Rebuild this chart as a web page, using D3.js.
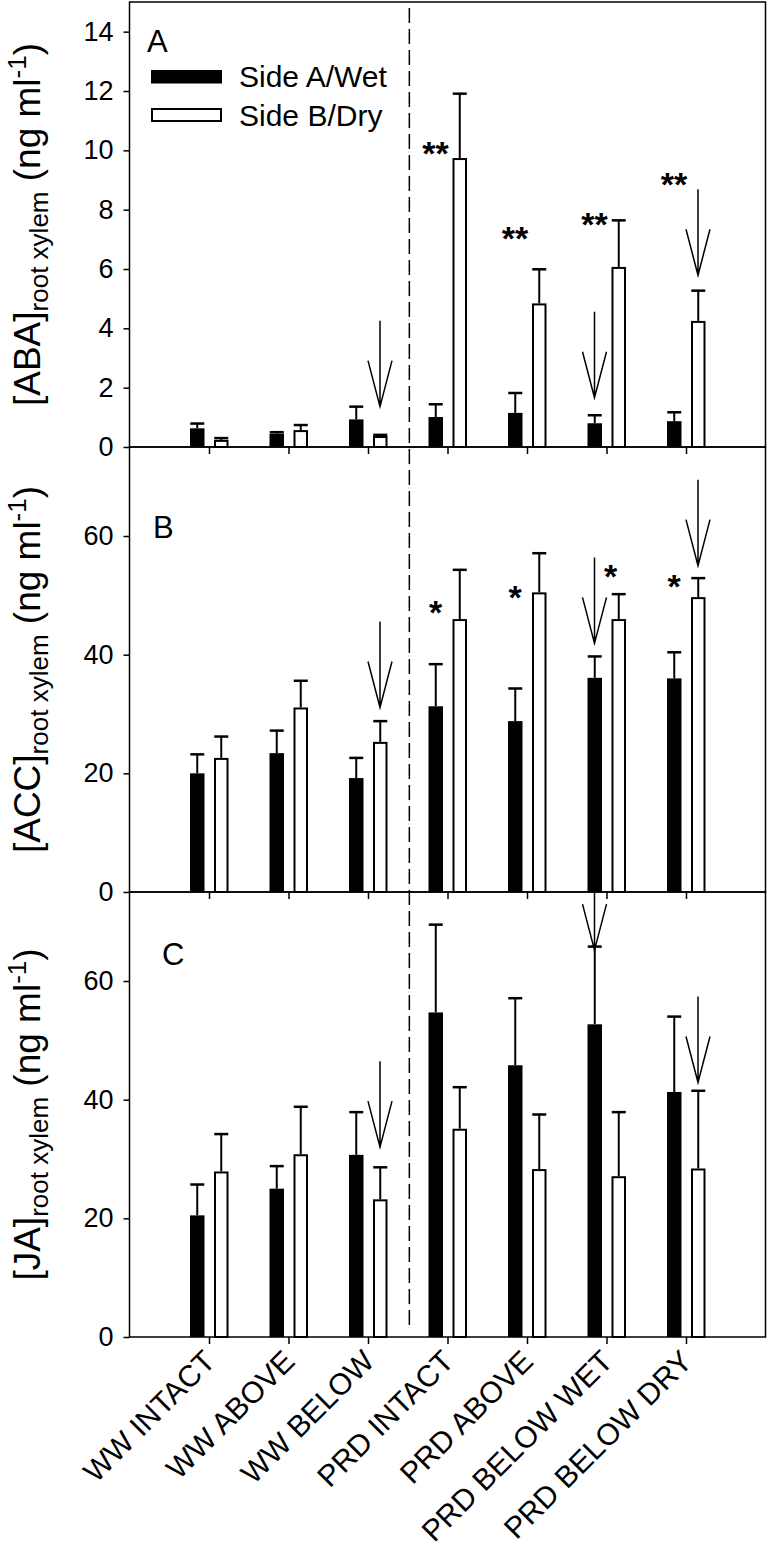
<!DOCTYPE html>
<html>
<head>
<meta charset="utf-8">
<script src="https://cdn.jsdelivr.net/npm/d3@7"></script>
<style>
  body { margin: 0; background: #fff; }
  text { font-family: "Liberation Sans", Arial, Helvetica, sans-serif; fill: #000; }
</style>
</head>
<body>
<div id="chart"></div>
<script>
// treatments along the x axis
var categories = ["WW INTACT", "WW ABOVE", "WW BELOW", "PRD INTACT", "PRD ABOVE", "PRD BELOW WET", "PRD BELOW DRY"];

// A: [ABA] root xylem, side A/wet (black) and side B/dry (white), mean and SE
var abaWet    = [0.63, 0.45, 0.93, 1.01, 1.15, 0.80, 0.87];
var abaWetErr = [0.16, 0.05, 0.43, 0.43, 0.67, 0.27, 0.30];
var abaDry    = [0.24, 0.57, 0.37, 9.74, 4.84, 6.07, 4.25];
var abaDryErr = [0.06, 0.17, 0.04, 2.17, 1.15, 1.57, 1.02];

// B: [ACC]
var accWet    = [20.0, 23.4, 19.2, 31.3, 28.8, 36.1, 36.0];
var accWetErr = [3.2, 3.8, 3.4, 7.1, 5.5, 3.6, 4.4];
var accDry    = [22.6, 31.1, 25.3, 46.0, 50.5, 46.0, 49.7];
var accDryErr = [3.6, 4.5, 3.5, 8.3, 6.6, 4.2, 3.2];

// C: [JA]
var jaWet    = [20.5, 25.0, 30.7, 54.7, 45.8, 52.7, 41.3];
var jaWetErr = [5.2, 3.8, 7.2, 14.8, 11.3, 13.1, 12.7];
var jaDry    = [27.9, 30.8, 23.2, 35.1, 28.3, 27.1, 28.4];
var jaDryErr = [6.3, 8.0, 5.4, 7.0, 9.2, 10.8, 13.1];

var abaTicks = [0, 2, 4, 6, 8, 10, 12, 14];
var accTicks = [0, 20, 40, 60];
var jaTicks  = [0, 20, 40, 60];

// significance marks: [category index, mark, side, value]
var abaStars = [[3, "**", "wet", 10.15], [4, "**", "wet", 7.3], [5, "**", "wet", 7.78], [6, "**", "wet", 9.12]];
var accStars = [[3, "*", "wet", 48.4], [4, "*", "wet", 50.9], [5, "*", "mid", 54.5], [6, "*", "wet", 52.9]];

// arrows: [category index, side, value at the tip]
var abaArrows = [[2, "dry", 1.36], [5, "wet", 1.66], [6, "dry", 5.79]];
var accArrows = [[2, "dry", 31.1], [5, "wet", 41.9], [6, "dry", 55.0]];
var jaArrows  = [[2, "dry", 32.0], [5, "wet", 65.2], [6, "dry", 42.9]];

var width = 771, height = 1550;
var sideOffset = {wet: -12, dry: 12, mid: 4};

var svg = d3.select("#chart")
    .append("svg")
    .attr("width", width)
    .attr("height", height);

var x = d3.scaleLinear()
    .domain([0, 8])
    .range([129.5, 765.5]);

var panels = [
    {letter: "A", lx: 147, ly: 52, top: 2, bottom: 447, domain: [0, 15], ticks: abaTicks,
     wet: abaWet, wetErr: abaWetErr, dry: abaDry, dryErr: abaDryErr,
     stars: abaStars, arrows: abaArrows, title: "[ABA]"},
    {letter: "B", lx: 153, ly: 538, top: 447, bottom: 892, domain: [0, 75], ticks: accTicks,
     wet: accWet, wetErr: accWetErr, dry: accDry, dryErr: accDryErr,
     stars: accStars, arrows: accArrows, title: "[ACC]"},
    {letter: "C", lx: 162, ly: 965, top: 892, bottom: 1337, domain: [0, 75], ticks: jaTicks,
     wet: jaWet, wetErr: jaWetErr, dry: jaDry, dryErr: jaDryErr,
     stars: [], arrows: jaArrows, title: "[JA]"}
];

function drawPanel(p) {
    var g = svg.append("g");
    var y = d3.scaleLinear().domain(p.domain).range([p.bottom, p.top]);

    // black bars
    g.selectAll(".wet").data(p.wet).join("rect")
        .attr("x", function(d, i) { return x(i + 1) - 19; })
        .attr("width", 14.5)
        .attr("y", function(d) { return y(d); })
        .attr("height", function(d) { return p.bottom - y(d); })
        .attr("fill", "#000");

    // white bars
    g.selectAll(".dry").data(p.dry).join("rect")
        .attr("x", function(d, i) { return x(i + 1) + 6; })
        .attr("width", 12.5)
        .attr("y", function(d) { return y(d) + 1; })
        .attr("height", function(d) { return p.bottom - y(d) - 1; })
        .attr("fill", "#fff")
        .attr("stroke", "#000")
        .attr("stroke-width", 2);

    // error bars (upper only)
    function errBars(vals, errs, dx) {
        vals.forEach(function(v, i) {
            var cx = x(i + 1) + dx;
            g.append("line")
                .attr("x1", cx).attr("x2", cx)
                .attr("y1", y(v)).attr("y2", y(v + errs[i]))
                .attr("stroke", "#000").attr("stroke-width", 2);
            g.append("line")
                .attr("x1", cx - 7).attr("x2", cx + 7)
                .attr("y1", y(v + errs[i])).attr("y2", y(v + errs[i]))
                .attr("stroke", "#000").attr("stroke-width", 2.5);
        });
    }
    errBars(p.wet, p.wetErr, -11.75);
    errBars(p.dry, p.dryErr, 12.25);

    // frame
    g.append("rect")
        .attr("x", x(0)).attr("y", p.top)
        .attr("width", x(8) - x(0)).attr("height", p.bottom - p.top)
        .attr("fill", "none").attr("stroke", "#000").attr("stroke-width", 1.5);

    var yAxis = g.append("g")
        .attr("transform", "translate(" + x(0) + ",0)")
        .call(d3.axisLeft(y).tickValues(p.ticks).tickSize(6).tickPadding(10));
    yAxis.select(".domain").remove();
    yAxis.attr("font-size", 27).attr("font-family", null);
    yAxis.selectAll("line").attr("stroke-width", 1.5);

    var xAxis = g.append("g")
        .attr("transform", "translate(0," + p.bottom + ")")
        .call(d3.axisBottom(x).tickValues(d3.range(1, 8)).tickSize(7).tickFormat(""));
    xAxis.select(".domain").remove();
    xAxis.selectAll("line").attr("stroke-width", 1.5);

    // panel letter
    g.append("text")
        .attr("x", p.lx).attr("y", p.ly)
        .attr("font-size", 31)
        .text(p.letter);

    // y title with subscript and superscript
    var t = g.append("text")
        .attr("transform", "translate(40," + ((p.top + p.bottom) / 2) + ") rotate(-90)")
        .attr("text-anchor", "middle")
        .attr("font-size", 37);
    t.append("tspan").text(p.title);
    t.append("tspan").attr("font-size", 26).attr("dy", 8).text("root xylem");
    t.append("tspan").attr("dy", -8).text(" (ng ml");
    t.append("tspan").attr("font-size", 26).attr("dy", -14).text("-1");
    t.append("tspan").attr("dy", 14).text(")");

    // significance stars
    g.selectAll(".star").data(p.stars).join("text")
        .attr("x", function(d) { return x(d[0] + 1) + sideOffset[d[2]]; })
        .attr("y", function(d) { return y(d[3]) + 0.57 * 34; })
        .attr("text-anchor", "middle")
        .attr("font-size", 34)
        .attr("font-weight", "bold")
        .text(function(d) { return d[1]; });

    // arrows
    g.selectAll(".arrow").data(p.arrows).join("path")
        .attr("d", function(d) {
            var cx = x(d[0] + 1) + sideOffset[d[1]];
            var ty = y(d[2]);
            return "M" + cx + "," + (ty - 86) + "L" + cx + "," + ty +
                   "M" + (cx - 12) + "," + (ty - 46) + "L" + cx + "," + ty + "L" + (cx + 12) + "," + (ty - 46);
        })
        .attr("fill", "none")
        .attr("stroke", "#000")
        .attr("stroke-width", 1.5);
}

panels.forEach(drawPanel);

// dashed separator WW | PRD
svg.append("line")
    .attr("x1", x(3.52)).attr("x2", x(3.52))
    .attr("y1", 8).attr("y2", 1330)
    .attr("stroke", "#000")
    .attr("stroke-width", 1.5)
    .attr("stroke-dasharray", "15,6");

// legend
var legend = svg.append("g");
legend.append("rect")
    .attr("x", 151).attr("y", 70).attr("width", 71).attr("height", 13.5)
    .attr("fill", "#000");
legend.append("rect")
    .attr("x", 152).attr("y", 109).attr("width", 69).attr("height", 12)
    .attr("fill", "#fff").attr("stroke", "#000").attr("stroke-width", 2);
legend.append("text").attr("x", 239).attr("y", 87).attr("font-size", 30).text("Side A/Wet");
legend.append("text").attr("x", 239).attr("y", 126).attr("font-size", 30).text("Side B/Dry");

// category labels under the bottom panel
svg.append("g").selectAll("text").data(categories).join("text")
    .attr("transform", function(d, i) {
        return "translate(" + (x(i + 1) + 8) + "," + (1337 + 26) + ") rotate(-45)";
    })
    .attr("text-anchor", "end")
    .attr("font-size", 30)
    .text(function(d) { return d; });
</script>
</body>
</html>
